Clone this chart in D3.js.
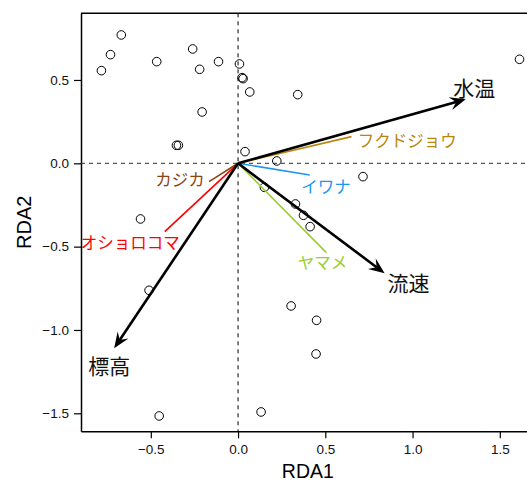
<!DOCTYPE html>
<html>
<head>
<meta charset="utf-8">
<script src="https://cdn.jsdelivr.net/npm/d3@7"></script>
<style>
  body { margin: 0; background: #fff; }
  text { font-family: "Liberation Sans", Arial, sans-serif; }
  .jp { font-family: "Noto Sans CJK JP", sans-serif; }
</style>
</head>
<body>
<div id="chart"></div>
<script>
// site scores (RDA1, RDA2)
var siteX = [-0.669, -0.731, -0.783, -0.466, -0.260, -0.220, -0.112, 0.008, 0.023, 0.029,
             0.067, -0.206, -0.353, -0.342, 0.040, 0.222, 0.716, 0.151, 0.329, 0.375,
             0.413, -0.559, -0.510, 0.304, 0.450, 0.447, 0.132, -0.452, 1.613, 0.342];
var siteY = [0.770, 0.652, 0.556, 0.610, 0.686, 0.564, 0.610, 0.596, 0.514, 0.508,
             0.428, 0.308, 0.108, 0.108, 0.070, 0.014, -0.080, -0.144, -0.244, -0.312,
             -0.380, -0.334, -0.762, -0.856, -0.942, -1.144, -1.492, -1.516, 0.624, 0.412];

// environmental vectors
var envNames = ['水温', '流速', '標高'];
var envX = [1.305, 0.840, -0.710];
var envY = [0.384, -0.660, -1.110];
var envLabX = [1.233, 0.856, -0.859];
var envLabY = [0.450, -0.720, -1.218];

// species vectors
var spNames = ['フクドジョウ', 'イワナ', 'ヤマメ', 'オショロコマ', 'カジカ'];
var spX = [0.650, 0.411, 0.506, -0.420, -0.166];
var spY = [0.160, -0.070, -0.536, -0.410, -0.110];
var spLabX = [0.686, 0.362, 0.342, -0.334, -0.191];
var spLabY = [0.130, -0.144, -0.600, -0.478, -0.104];
var spAnchor = ['start', 'start', 'start', 'end', 'end'];
var spColors = ['#B8860B', '#1E96F0', '#9ACD32', '#FF0000', '#8B4513'];

var xTicks = [-0.5, 0.0, 0.5, 1.0, 1.5];
var yTicks = [-1.5, -1.0, -0.5, 0.0, 0.5];

var W = 527, H = 483;
var padL = 81, padT = 13.3, padR = 534.7, padB = 431.3;

var x = d3.scaleLinear().domain([-0.9, 1.7]).range([padL, padR]);
var y = d3.scaleLinear().domain([-1.608, 0.9]).range([padB, padT]);

var svg = d3.select('#chart').append('svg')
    .attr('width', W)
    .attr('height', H);

function fmt(d) {
    return d3.format('.1f')(d).replace('-', '\u2212');
}

function styleAxis(g) {
    g.select('.domain').attr('stroke-width', 1.5);
    g.selectAll('.tick line').attr('stroke-width', 1.2);
    g.selectAll('text')
        .attr('font-size', 13.5)
        .attr('font-family', 'Liberation Sans, Arial, sans-serif')
        .attr('fill', '#111');
}

// axes
svg.append('g')
    .attr('transform', 'translate(0,' + padB + ')')
    .call(d3.axisBottom(x).tickValues(xTicks).tickFormat(fmt).tickSize(7).tickSizeOuter(0).tickPadding(6))
    .call(styleAxis);

svg.append('g')
    .attr('transform', 'translate(' + padL + ',0)')
    .call(d3.axisLeft(y).tickValues(yTicks).tickFormat(fmt).tickSize(7).tickSizeOuter(0).tickPadding(5))
    .call(styleAxis);

// box top
svg.append('line')
    .attr('x1', padL).attr('x2', padR)
    .attr('y1', padT).attr('y2', padT)
    .attr('stroke', '#000').attr('stroke-width', 1.5);

// zero lines
svg.append('line')
    .attr('x1', padL).attr('x2', padR)
    .attr('y1', y(0)).attr('y2', y(0))
    .attr('stroke', '#333').attr('stroke-dasharray', '4,4');
svg.append('line')
    .attr('x1', x(0)).attr('x2', x(0))
    .attr('y1', padT).attr('y2', padB)
    .attr('stroke', '#000').attr('stroke-dasharray', '4,4');

// axis titles
svg.append('text')
    .attr('x', (padL + padR) / 2)
    .attr('y', 478)
    .attr('text-anchor', 'middle')
    .attr('font-size', 19.5)
    .text('RDA1');
svg.append('text')
    .attr('transform', 'translate(31,' + ((padT + padB) / 2) + ') rotate(-90)')
    .attr('text-anchor', 'middle')
    .attr('font-size', 20)
    .text('RDA2');

// sites
svg.append('g').selectAll('circle')
    .data(d3.range(siteX.length))
    .enter().append('circle')
    .attr('cx', function(i) { return x(siteX[i]); })
    .attr('cy', function(i) { return y(siteY[i]); })
    .attr('r', 4.3)
    .attr('fill', 'none')
    .attr('stroke', '#000')
    .attr('stroke-width', 1);

// species lines
var sp = svg.append('g');
spNames.forEach(function(name, i) {
    sp.append('line')
        .attr('x1', x(0)).attr('y1', y(0))
        .attr('x2', x(spX[i])).attr('y2', y(spY[i]))
        .attr('stroke', spColors[i])
        .attr('stroke-width', 1.6);
    sp.append('text')
        .attr('class', 'jp')
        .attr('x', x(spLabX[i]))
        .attr('y', y(spLabY[i]))
        .attr('dy', '0.35em')
        .attr('text-anchor', spAnchor[i])
        .attr('font-size', 16.5)
        .attr('fill', spColors[i])
        .text(name);
});

// environmental arrows
var env = svg.append('g');
envNames.forEach(function(name, i) {
    var x0 = x(0), y0 = y(0), x1 = x(envX[i]), y1 = y(envY[i]);
    var ang = Math.atan2(y1 - y0, x1 - x0);
    var len = 16, half = 6.5, notch = 10;
    var ca = Math.cos(ang), sa = Math.sin(ang);
    env.append('line')
        .attr('x1', x0).attr('y1', y0)
        .attr('x2', x1 - ca * notch).attr('y2', y1 - sa * notch)
        .attr('stroke', '#000')
        .attr('stroke-width', 2.6);
    var p = [
        [x1, y1],
        [x1 - ca * len - sa * half, y1 - sa * len + ca * half],
        [x1 - ca * notch, y1 - sa * notch],
        [x1 - ca * len + sa * half, y1 - sa * len - ca * half]
    ];
    env.append('path')
        .attr('d', 'M' + p.join('L') + 'Z')
        .attr('fill', '#000');
    env.append('text')
        .attr('class', 'jp')
        .attr('x', x(envLabX[i]))
        .attr('y', y(envLabY[i]))
        .attr('dy', '0.35em')
        .attr('font-size', 21)
        .attr('fill', '#111')
        .text(name);
});
</script>
</body>
</html>
